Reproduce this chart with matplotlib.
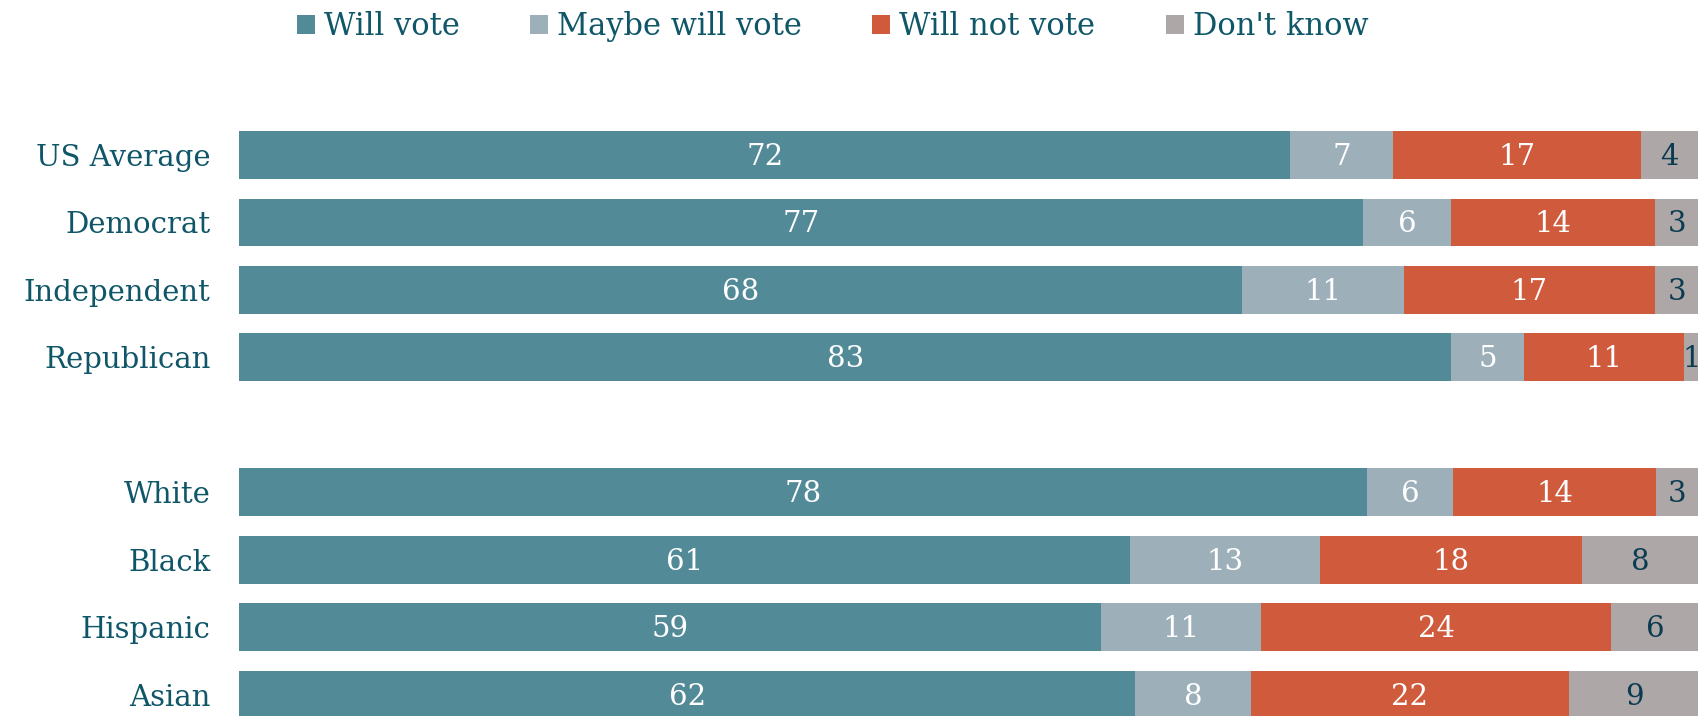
import matplotlib
matplotlib.use("Agg")
import matplotlib.pyplot as plt
from matplotlib.patches import Patch
import numpy as np

categories = ["US Average", "Democrat", "Independent", "Republican",
              "White", "Black", "Hispanic", "Asian"]
will_vote = [72, 77, 68, 83, 78, 61, 59, 62]
maybe_vote = [7, 6, 11, 5, 6, 13, 11, 8]
will_not_vote = [17, 14, 17, 11, 14, 18, 24, 22]
dont_know = [4, 3, 3, 1, 3, 8, 6, 9]
series_names = ["Will vote", "Maybe will vote", "Will not vote", "Don't know"]

colors = ["#528A98", "#9DB0BA", "#D05A3C", "#ADA8A7"]
text_colors = ["white", "white", "white", "#0B3B50"]
label_color = "#0F5668"

plt.rcParams['font.family'] = ['DejaVu Serif']

fig = plt.figure(figsize=(16.99, 7.16), dpi=100)
ax = fig.add_axes([239.5 / 1699, 0, 1 - 239.5 / 1699, 1])

ypos = [0, 1, 2, 3, 5, 6, 7, 8]
data = np.array([will_vote, maybe_vote, will_not_vote, dont_know], dtype=float)
totals = data.sum(axis=0)
shares = data / totals * 100

left = np.zeros(len(categories))
for k in range(4):
    ax.barh(ypos, shares[k], left=left, height=0.71, color=colors[k], linewidth=0)
    for i, y in enumerate(ypos):
        ax.text(left[i] + shares[k][i] / 2, y + 0.03, str(int(data[k][i])),
                ha="center", va="center", color=text_colors[k], fontsize=21)
    left += shares[k]

pitch = 67.46
ax.set_ylim((716 - 155) / pitch, -155 / pitch)
ax.set_xlim(0, 100)
ax.set_yticks(ypos)
ax.set_yticklabels(categories, fontsize=21, color=label_color)
ax.tick_params(axis="y", length=0, pad=21)
ax.set_xticks([])
for s in ax.spines.values():
    s.set_visible(False)

handles = [Patch(facecolor=c, edgecolor="none") for c in colors]
leg = fig.legend(handles, series_names, loc="center", bbox_to_anchor=(0.490, 1 - 26.5 / 716),
                 ncol=4, frameon=False, fontsize=22, handlelength=0.59, handleheight=0.59,
                 handletextpad=0.3, columnspacing=2.3, borderpad=0, borderaxespad=0)
for t in leg.get_texts():
    t.set_color(label_color)

fig.savefig("out.png", dpi=100)
